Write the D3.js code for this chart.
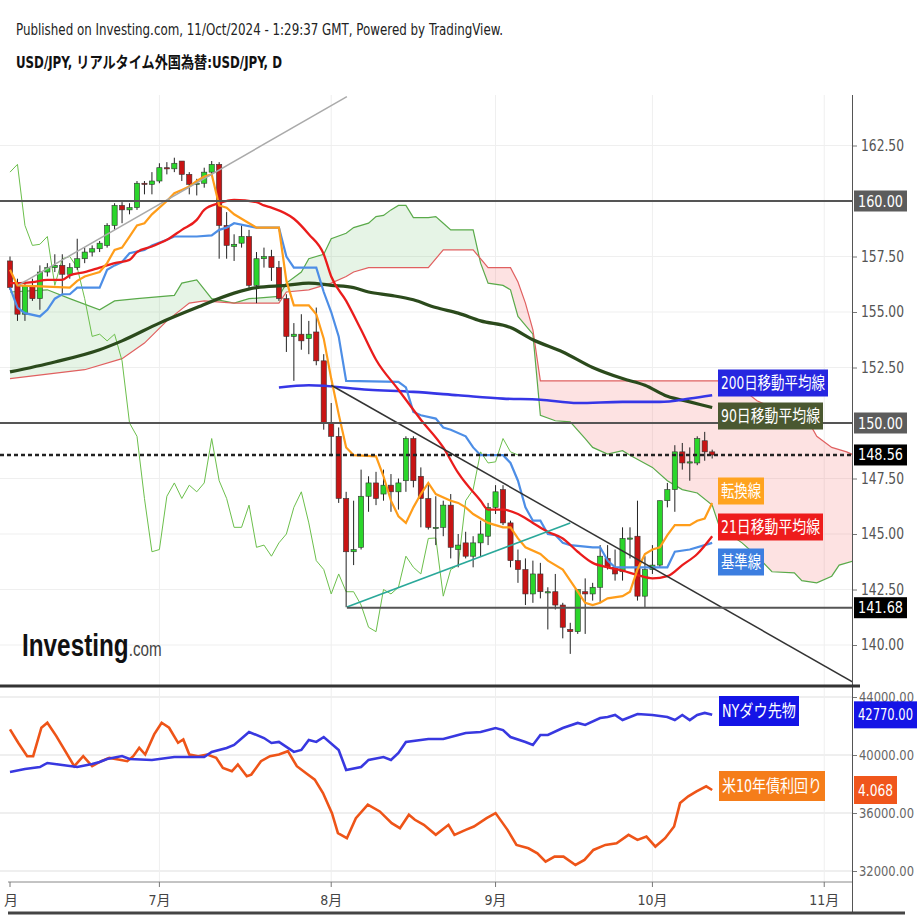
<!DOCTYPE html>
<html><head><meta charset="utf-8">
<script src="https://cdnjs.cloudflare.com/ajax/libs/d3/7.8.5/d3.min.js"></script>
<style>body{margin:0;background:#fff}svg{display:block}</style>
</head><body>
<svg id="c" width="924" height="924"></svg>
<script>
// ---------- DATA ----------
const firstDate = "2024-06-03"; // daily candles, weekdays
// [open, high, low, close]
const ohlc = [
[157.3,157.5,156.0,156.1],[156.3,156.5,154.6,154.9],[154.9,156.4,154.6,156.2],[156.2,156.5,155.5,155.6],[155.6,157.1,155.1,156.8],
[156.8,157.2,156.6,157.0],[157.0,157.6,156.8,157.1],[157.1,157.6,155.8,156.7],[156.7,157.2,156.5,157.0],[157.0,158.3,156.9,157.4],
[157.4,157.9,157.2,157.7],[157.7,158.0,157.5,157.85],[157.85,158.2,157.7,158.1],[158.0,159.0,157.9,158.9],[158.9,159.9,158.7,159.8],
[159.8,159.95,159.0,159.6],[159.6,159.9,159.4,159.7],[159.7,160.9,159.6,160.8],[160.8,160.9,160.3,160.75],[160.75,161.3,160.3,160.9],
[160.9,161.7,160.8,161.5],[161.5,161.75,161.2,161.45],[161.45,161.95,161.3,161.7],[161.8,161.8,160.9,161.2],[161.2,161.3,160.3,160.75],
[160.75,161.0,160.25,160.8],[160.8,161.5,160.6,161.3],[161.3,161.8,161.2,161.65],[161.65,161.75,157.4,158.9],[158.9,159.5,157.4,158.0],
[157.95,158.5,157.3,158.05],[158.1,158.9,157.9,158.4],[158.4,158.7,156.0,156.2],[156.2,157.7,155.4,157.4],[157.4,157.9,157.0,157.5],
[157.5,157.8,156.4,157.0],[157.0,157.3,155.5,155.6],[155.6,155.8,153.2,153.9],[153.9,154.5,151.9,154.0],[154.0,154.9,153.3,153.7],
[153.8,154.6,153.1,154.0],[154.1,155.2,152.6,152.8],[152.8,153.1,149.7,150.0],[150.0,150.9,148.5,149.4],[149.4,149.8,146.4,146.6],
[146.6,146.9,141.7,144.2],[144.2,146.5,143.6,144.3],[144.4,147.9,144.3,146.7],[146.7,147.6,146.0,147.3],[147.3,147.8,146.3,146.6],
[146.8,147.9,146.5,147.2],[147.2,147.7,146.0,146.9],[146.9,147.5,146.1,147.3],[147.4,149.4,146.9,149.3],[149.3,149.4,147.1,147.4],
[147.6,148.0,145.3,146.6],[146.6,147.3,145.2,145.3],[145.3,146.7,144.5,145.3],[145.3,146.5,144.9,146.3],[146.3,146.8,143.9,144.4],
[144.3,145.0,143.5,144.5],[144.6,145.1,143.9,144.0],[144.0,144.9,143.5,144.6],[144.6,145.6,144.0,145.0],[144.9,146.4,144.5,146.2],
[146.2,147.2,145.9,146.9],[147.0,147.2,145.4,145.5],[145.5,145.6,143.5,143.8],[143.8,144.3,142.8,143.4],[143.4,143.9,141.8,142.3],
[142.3,143.8,141.9,143.2],[143.2,143.7,142.1,142.4],[142.4,142.6,140.7,142.4],[142.4,143.2,141.6,141.8],[141.8,141.9,140.3,140.8],
[140.7,141.0,139.6,140.6],[140.6,142.5,140.5,142.5],[142.4,143.0,140.5,142.3],[142.3,142.8,142.0,142.6],[142.6,144.5,141.9,144.0],
[143.9,144.5,143.4,143.5],[143.5,144.3,142.9,143.2],[143.3,145.3,142.9,144.8],[144.8,145.3,143.9,144.82],[144.9,146.5,142.0,142.2],
[142.2,144.0,141.7,143.4],[143.4,144.5,143.2,143.6],[143.6,146.5,143.5,146.5],[146.5,147.3,146.2,147.0],[147.0,149.0,146.0,148.7],
[148.7,149.1,147.9,148.2],[148.2,148.9,147.4,148.25],[148.2,149.4,148.1,149.3],[149.2,149.6,148.3,148.7],[148.7,148.8,148.4,148.56]
];
const chikouShift = 26;

// indicator readings: [candle index, value]
const tenkan = [[0,156.9],[1,156.2],[8,156.1],[9,156.4],[10,156.6],[11,156.7],[12,156.8],[13,157.2],[14,157.8],[15,157.9],[16,158.4],[17,158.9],[18,159.0],[19,159.4],[20,159.7],[21,160.0],[22,160.35],[23,160.5],[24,160.65],[25,160.9],[26,161.1],[27,161.2],[28,159.8],[29,159.7],[30,159.4],[32,159.0],[33,158.8],[36,158.8],[37,156.4],[38,155.3],[40,155.3],[41,154.9],[42,153.8],[43,152.0],[44,150.4],[45,148.9],[46,148.55],[49,148.5],[50,147.6],[51,146.5],[52,145.8],[53,145.5],[54,146.2],[55,146.8],[56,147.3],[57,146.8],[59,146.5],[60,146.4],[61,146.2],[62,145.9],[64,145.5],[66,145.3],[67,145.3],[68,144.8],[69,144.4],[71,144.1],[72,143.8],[74,143.4],[76,142.4],[77,141.9],[78,141.8],[79,141.9],[80,142.1],[82,142.2],[83,142.4],[84,143.4],[85,144.1],[86,144.3],[87,144.4],[88,144.95],[89,145.4],[91,145.4],[92,145.6],[93,145.7],[94,146.4]];
const kijun = [[0,156.1],[1,155.2],[2,154.95],[4,154.8],[5,155.1],[6,155.6],[7,155.8],[8,155.8],[9,156.1],[12,156.1],[13,156.9],[14,157.1],[15,157.25],[16,157.65],[18,157.8],[19,158.0],[21,158.25],[22,158.4],[25,158.4],[27,158.45],[28,158.7],[29,158.8],[30,159.0],[33,158.8],[36,158.8],[37,157.5],[38,157.0],[41,157.0],[42,155.9],[43,155.0],[44,153.9],[45,151.9],[52,151.85],[53,151.6],[54,150.5],[55,150.35],[57,150.2],[58,149.8],[59,149.7],[61,149.4],[62,148.9],[63,148.55],[66,148.55],[67,148.2],[68,147.4],[69,146.2],[70,145.6],[71,145.6],[72,145.0],[73,144.95],[74,144.6],[75,144.5],[78,144.4],[79,144.4],[80,143.8],[81,143.5],[88,143.5],[89,144.2],[91,144.3],[93,144.5],[94,144.6]];
const ma21 = [[0,156.3],[1,156.3],[3,156.35],[5,156.45],[7,156.45],[8,156.65],[10,156.8],[12,157.0],[14,157.2],[16,157.35],[17,157.7],[19,157.95],[21,158.25],[23,158.7],[25,159.15],[26,159.6],[28,159.9],[30,160.05],[33,159.95],[34,159.8],[35,159.7],[38,159.2],[40,158.5],[42,157.6],[43,156.6],[45,155.5],[47,154.2],[49,152.85],[52,151.5],[55,150.15],[58,148.9],[60,147.75],[63,146.5],[64,146.1],[66,146.1],[68,145.9],[70,145.5],[72,145.1],[74,144.8],[76,144.2],[78,143.7],[80,143.5],[82,143.35],[84,143.15],[86,143.0],[88,143.1],[90,143.6],[92,144.1],[94,144.9]];
const ma90 = [[0,152.3],[6,152.75],[12,153.3],[15,153.7],[20,154.5],[25,155.2],[30,155.85],[33,156.1],[37,156.2],[40,156.3],[43,156.2],[46,156.1],[48,155.9],[51,155.75],[54,155.55],[57,155.2],[60,154.95],[63,154.6],[67,154.3],[70,153.75],[74,153.2],[78,152.5],[82,152.0],[85,151.7],[88,151.2],[91,150.95],[94,150.7]];
const ma200 = [[36,151.6],[40,151.7],[48,151.5],[54,151.4],[60,151.25],[66,151.1],[71,151.05],[76,150.9],[82,150.95],[87,150.95],[91,151.1],[94,151.25]];
const spanA = [[0,155.9],[5,156.0],[8,155.6],[12,155.1],[14,155.5],[17,155.6],[22,155.75],[23,156.3],[25,156.45],[27,155.6],[30,155.4],[32,155.6],[36,155.7],[37,156.3],[39,156.8],[40,157.4],[42,157.6],[43,158.3],[45,158.55],[46,158.8],[48,159.0],[49,159.3],[50,159.35],[51,159.6],[52,159.8],[53,159.8],[54,159.25],[56,159.25],[57,159.3],[58,159.0],[59,158.7],[62,158.7],[63,157.2],[64,156.3],[66,156.2],[67,156.0],[68,154.8],[70,154.0],[71,150.35],[73,150.1],[75,150.05],[77,149.3],[78,148.9],[80,148.6],[82,148.75],[83,148.55],[86,148.0],[88,147.4],[90,147.0],[92,146.85],[94,146.3],[95,145.3],[98,144.6],[100,144.0],[102,143.3],[105,143.25],[106,142.9],[108,142.8],[110,143.1],[111,143.6],[113,143.8]];
const spanB = [[0,152.0],[10,152.4],[15,152.9],[18,153.6],[21,154.6],[24,155.4],[26,155.5],[30,155.4],[36,155.4],[37,155.9],[40,156.0],[43,156.3],[45,156.6],[46,156.8],[48,157.0],[56,157.0],[58,157.8],[62,157.8],[64,157.0],[67,157.0],[68,156.35],[69,155.4],[70,154.2],[71,151.9],[95,151.9],[97,151.8],[100,151.0],[102,150.7],[106,150.6],[108,149.4],[110,148.9],[112,148.7],[113,148.55]];

// lower panel
const dowFut = [[0,38830],[2,39030],[4,39170],[5,39450],[7,39310],[9,39170],[11,39380],[12,39520],[13,39720],[15,39930],[16,39720],[19,39660],[22,39860],[26,39860],[27,40210],[29,40480],[30,40690],[32,41590],[34,41170],[35,40830],[36,40900],[38,40210],[39,40350],[40,41030],[41,40900],[42,41240],[44,40350],[45,38970],[47,39170],[48,39660],[50,39860],[51,39660],[52,40140],[53,40900],[56,41100],[58,41100],[60,41380],[61,41520],[63,41590],[65,41860],[66,41720],[67,41240],[69,40900],[70,40690],[71,41380],[72,41380],[74,41860],[76,42210],[77,42070],[79,42550],[80,42620],[81,42760],[82,42410],[84,42830],[86,42760],[88,42620],[89,42410],[90,42760],[91,42410],[92,42760],[93,42900],[94,42770]];
const us10y = [[0,4.43],[1.1,4.35],[2.3,4.27],[3.1,4.27],[4.2,4.44],[5,4.47],[6.2,4.39],[7.4,4.30],[8.6,4.21],[9.8,4.27],[11,4.21],[12.2,4.24],[13.3,4.26],[14.5,4.25],[15.7,4.24],[16.5,4.27],[17.3,4.32],[18.1,4.28],[19.3,4.40],[20.3,4.47],[21.3,4.44],[22.5,4.35],[23.2,4.37],[24,4.28],[25.2,4.27],[26.4,4.28],[27.6,4.26],[28.5,4.20],[29.7,4.18],[30.5,4.22],[31.7,4.15],[32.3,4.16],[33.6,4.24],[34.8,4.27],[36,4.28],[37.2,4.30],[38.4,4.21],[39.6,4.17],[40.8,4.13],[41.9,4.05],[43.1,3.93],[43.9,3.81],[45.1,3.78],[46.3,3.90],[47.9,3.98],[49.5,3.94],[51.1,3.87],[52.2,3.84],[53.4,3.92],[54.2,3.89],[55.4,3.86],[57,3.80],[58.7,3.86],[59.5,3.80],[61,3.83],[62.1,3.85],[63.8,3.90],[65,3.93],[66.6,3.83],[67.8,3.74],[69.4,3.72],[70.6,3.69],[71.7,3.64],[72.9,3.67],[74.1,3.67],[75.7,3.62],[76.9,3.65],[78.1,3.71],[79.7,3.74],[81.2,3.75],[82.8,3.80],[84,3.77],[85.2,3.79],[86.4,3.73],[87.7,3.78],[88.9,3.85],[89.7,3.99],[90.8,4.03],[91.9,4.06],[93.2,4.09],[94,4.068]];

// axes / labels
const priceTicks = [140,142.5,145,147.5,152.5,155,157.5,162.5];
const dowTicks = [32000,36000,40000,44000];
const monthTicks = [[0,"月"],[20,"7月"],[43,"8月"],[65,"9月"],[86,"10月"],[109,"11月"]];
const levelLines = [160,150];
const lastPrice = 148.56;
const supportLevel = 141.68;
const lastDow = 42770, lastYield = 4.068;
const trendGray = [[1.07,156.2],[45.1,164.7]];
const trendBlack = [[43.0,151.7],[113,138.3]];
const trendTeal = [[45.1,141.71],[75.0,145.5]];
const legendMain = [
  {t:"200日移動平均線", c:"#2626e0", y:383, w:110},
  {t:"90日移動平均線", c:"#4a5830", y:416, w:105},
  {t:"転換線", c:"#ffa31f", y:491, w:46},
  {t:"21日移動平均線", c:"#ee1c1c", y:527, w:105},
  {t:"基準線", c:"#3c7ee0", y:562, w:46}
];
const legendLow = [
  {t:"NYダウ先物", c:"#1414e6", y:711, w:80},
  {t:"米10年債利回り", c:"#f57d1a", y:786, w:106}
];

// ---------- DRAW ----------
const svg = d3.select("#c");
const NARROW = "'Liberation Sans Narrow','DejaVu Sans Condensed','Noto Sans CJK JP',sans-serif";
const x = d3.scaleLinear().domain([0, 113]).range([10, 10 + 113 * 7.47]);
const y = d3.scaleLinear().domain([150, 160]).range([423, 201]);
const yDow = d3.scaleLinear().domain([40000, 44000]).range([755, 697]);
const yYld = d3.scaleLinear().domain([4.068, 3.62]).range([790, 865]);
const AX = 852, TOP = 95, MB = 685, LT = 688, LB = 882;

const defs = svg.append("defs");
defs.append("clipPath").attr("id","cm").append("rect").attr("x",0).attr("y",TOP).attr("width",AX).attr("height",MB-TOP);
defs.append("clipPath").attr("id","cl").append("rect").attr("x",0).attr("y",LT).attr("width",AX).attr("height",LB-LT);

// header
svg.append("text").attr("x",16).attr("y",35).attr("font-family",NARROW).attr("font-size",16).attr("fill","#222")
  .attr("textLength",487).attr("lengthAdjust","spacingAndGlyphs")
  .text("Published on Investing.com, 11/Oct/2024 - 1:29:37 GMT, Powered by TradingView.");
svg.append("text").attr("x",16).attr("y",68).attr("font-family",NARROW).attr("font-size",16).attr("font-weight","bold").attr("fill","#111")
  .attr("textLength",266).attr("lengthAdjust","spacingAndGlyphs")
  .text("USD/JPY, リアルタイム外国為替:USD/JPY, D");

// grids
const grid = svg.append("g").attr("stroke","#efefef").attr("stroke-width",1);
[140,142.5,145,147.5,150,152.5,155,157.5,160,162.5].forEach(v=>grid.append("line").attr("x1",0).attr("x2",AX).attr("y1",y(v)).attr("y2",y(v)));
dowTicks.forEach(v=>grid.append("line").attr("x1",0).attr("x2",AX).attr("y1",yDow(v)).attr("y2",yDow(v)).attr("stroke-width",2));
monthTicks.slice(1).forEach(m=>{
  grid.append("line").attr("x1",x(m[0])).attr("x2",x(m[0])).attr("y1",TOP).attr("y2",MB);
  grid.append("line").attr("x1",x(m[0])).attr("x2",x(m[0])).attr("y1",LT).attr("y2",LB);
});

const main = svg.append("g").attr("clip-path","url(#cm)");
const lineGen = d3.line().x(d=>x(d[0])).y(d=>y(d[1]));
const smooth = d3.line().x(d=>x(d[0])).y(d=>y(d[1])).curve(d3.curveMonotoneX);

// cloud
const ptsA = spanA.map(d=>[x(d[0]),y(d[1])]);
const ptsB = spanB.map(d=>[x(d[0]),y(d[1])]);
const band = d3.line()(ptsA.concat(ptsB.slice().reverse())) + "Z";
const xa = x(0), xb = x(113);
defs.append("clipPath").attr("id","aboveB").append("path").attr("d", d3.line()(ptsB.concat([[xb,0],[xa,0]]))+"Z");
defs.append("clipPath").attr("id","belowB").append("path").attr("d", d3.line()(ptsB.concat([[xb,1000],[xa,1000]]))+"Z");
main.append("g").attr("clip-path","url(#aboveB)").append("path").attr("d",band).attr("fill","rgba(90,180,90,0.15)");
main.append("g").attr("clip-path","url(#belowB)").append("path").attr("d",band).attr("fill","rgba(245,110,110,0.2)");
main.append("path").attr("d",lineGen(spanA)).attr("fill","none").attr("stroke","#5aaa4a").attr("stroke-width",1.2);
main.append("path").attr("d",lineGen(spanB)).attr("fill","none").attr("stroke","#e06060").attr("stroke-width",1.2);

// chikou (closes shifted back)
const chikou = ohlc.slice(chikouShift).map((d,i)=>[i,d[3]]);
main.append("path").attr("d",lineGen(chikou)).attr("fill","none").attr("stroke","#6cbf4c").attr("stroke-width",1);

// candles
const cg = main.append("g");
ohlc.forEach((d,i)=>{
  const up = d[3] >= d[0];
  const cx = x(i);
  cg.append("line").attr("x1",cx).attr("x2",cx).attr("y1",y(d[1])).attr("y2",y(d[2])).attr("stroke","#222").attr("stroke-width",1);
  const top = y(Math.max(d[0],d[3])), bot = y(Math.min(d[0],d[3]));
  cg.append("rect").attr("x",cx-2.6).attr("width",5.2).attr("y",top).attr("height",Math.max(1.2,bot-top))
    .attr("fill",up?"#2bd62b":"#c81414").attr("stroke","#333").attr("stroke-width",0.6);
});

// moving averages & ichimoku lines
main.append("path").attr("d",smooth(ma90)).attr("fill","none").attr("stroke","#2b4a1c").attr("stroke-width",3.2);
main.append("path").attr("d",smooth(ma200)).attr("fill","none").attr("stroke","#3636e6").attr("stroke-width",2.6);
main.append("path").attr("d",lineGen(kijun)).attr("fill","none").attr("stroke","#4d8ee6").attr("stroke-width",2.2);
main.append("path").attr("d",smooth(ma21)).attr("fill","none").attr("stroke","#ea1c1c").attr("stroke-width",2.3);
main.append("path").attr("d",lineGen(tenkan)).attr("fill","none").attr("stroke","#ff9d1a").attr("stroke-width",2.2);

// drawings
main.append("path").attr("d",lineGen(trendGray)).attr("stroke","#aaa").attr("stroke-width",1.5).attr("fill","none");
main.append("path").attr("d",lineGen(trendBlack)).attr("stroke","#333").attr("stroke-width",1.5).attr("fill","none");
main.append("path").attr("d",lineGen(trendTeal)).attr("stroke","#2aa89a").attr("stroke-width",1.6).attr("fill","none");
main.append("path").attr("d",lineGen([[trendTeal[0][0],supportLevel],[113,supportLevel]])).attr("stroke","#555").attr("stroke-width",2).attr("fill","none");
levelLines.forEach(v=>main.append("line").attr("x1",0).attr("x2",AX).attr("y1",y(v)).attr("y2",y(v)).attr("stroke","#555").attr("stroke-width",2));
main.append("line").attr("x1",0).attr("x2",AX).attr("y1",y(lastPrice)).attr("y2",y(lastPrice)).attr("stroke","#222").attr("stroke-width",2.5).attr("stroke-dasharray","4,3");

// logo (single text, horizontally condensed)
const logo = svg.append("text").attr("transform","translate(22,656) scale(0.76,1)")
  .attr("font-family","'Liberation Sans','Roboto',sans-serif");
logo.append("tspan").attr("font-size",32).attr("font-weight","bold").attr("fill","#111").text("Investing");
logo.append("tspan").attr("font-size",20).attr("fill","#444").text(".com");

// legends
function box(g, lx, cy, w, h, col, txt, fs){
  g.append("rect").attr("x",lx).attr("y",cy-h/2).attr("width",w).attr("height",h).attr("fill",col);
  g.append("text").attr("x",lx+3).attr("y",cy+fs*0.36).attr("font-family",NARROW).attr("font-size",fs).attr("fill","#fff")
    .attr("textLength",w-6).attr("lengthAdjust","spacingAndGlyphs").text(txt);
}
const lg = svg.append("g");
legendMain.forEach(l=>box(lg,718,l.y,l.w,27,l.c,l.t,17));
legendLow.forEach(l=>box(lg,719,l.y,l.w,30,l.c,l.t,17));

// lower panel lines
const low = svg.append("g").attr("clip-path","url(#cl)");
low.append("path").attr("d",d3.line().x(d=>x(d[0])).y(d=>yYld(d[1]))(us10y)).attr("fill","none").attr("stroke","#ee5418").attr("stroke-width",2.6);
low.append("path").attr("d",d3.line().x(d=>x(d[0])).y(d=>yDow(d[1]))(dowFut)).attr("fill","none").attr("stroke","#3838e0").attr("stroke-width",2.6);

// right price axis
const yAxis = d3.axisRight(y).tickValues(priceTicks).tickFormat(d3.format(".2f")).tickSize(5);
svg.append("g").attr("transform",`translate(${AX},0)`).call(yAxis)
  .call(g=>g.select(".domain").remove())
  .call(g=>g.selectAll("line").attr("stroke","#777"))
  .call(g=>g.selectAll("text").attr("x",9).attr("font-size",15).attr("font-family",NARROW).attr("fill","#555")
    .attr("textLength",43).attr("lengthAdjust","spacingAndGlyphs"));
const dAxis = d3.axisRight(yDow).tickValues(dowTicks).tickFormat(d3.format(".2f")).tickSize(5);
svg.append("g").attr("transform",`translate(${AX},0)`).call(dAxis)
  .call(g=>g.select(".domain").remove())
  .call(g=>g.selectAll("line").attr("stroke","#777"))
  .call(g=>g.selectAll("text").attr("x",7).attr("font-size",14).attr("font-family",NARROW).attr("fill","#666")
    .attr("textLength",55).attr("lengthAdjust","spacingAndGlyphs"));

svg.append("line").attr("x1",AX+0.5).attr("x2",AX+0.5).attr("y1",TOP).attr("y2",912).attr("stroke","#555").attr("stroke-width",1);

// value boxes on axis
function vbox(cy, col, txt, w, h){
  svg.append("rect").attr("x",AX+2).attr("y",cy-h/2).attr("width",w).attr("height",h).attr("fill",col);
  svg.append("text").attr("x",AX+6).attr("y",cy+5.5).attr("font-family",NARROW).attr("font-size",15).attr("fill","#fff")
    .attr("textLength",w-8).attr("lengthAdjust","spacingAndGlyphs").text(txt);
}
vbox(y(160),"#5c5c5c","160.00",53,21);
vbox(y(150),"#5c5c5c","150.00",53,21);
vbox(y(lastPrice),"#000","148.56",53,21);
vbox(y(supportLevel),"#000","141.68",53,21);
vbox(yDow(lastDow),"#1414e6","42770.00",63,27);
vbox(yYld(lastYield),"#f0561c","4.068",43,28);

// bottom time axis
const xg = svg.append("g");
xg.append("line").attr("x1",8).attr("x2",AX).attr("y1",LB).attr("y2",LB).attr("stroke","#888");
monthTicks.forEach(m=>{
  xg.append("line").attr("x1",x(m[0])).attr("x2",x(m[0])).attr("y1",LB).attr("y2",LB+5).attr("stroke","#777");
  xg.append("text").attr("x",x(m[0])+ (m[0]===0?1:0)).attr("y",LB+23).attr("text-anchor","middle").attr("font-family",NARROW).attr("font-size",14).attr("fill","#444").text(m[1]);
});

// panel separators
svg.append("line").attr("x1",0).attr("x2",AX+8).attr("y1",686).attr("y2",686).attr("stroke","#333").attr("stroke-width",3);
svg.append("line").attr("x1",8).attr("x2",905).attr("y1",913).attr("y2",913).attr("stroke","#444").attr("stroke-width",3);
</script>
</body></html>
